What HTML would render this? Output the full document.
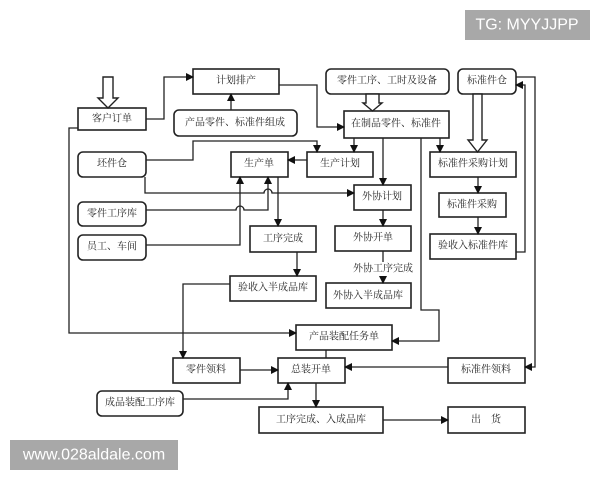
<!DOCTYPE html>
<html><head><meta charset="utf-8"><style>
html,body{margin:0;padding:0;background:#fff;}
svg{display:block;}
text{font-family:"Liberation Serif","Noto Serif CJK SC",serif;font-size:10px;fill:#222;text-anchor:middle;dominant-baseline:central;}
.w{font-family:"Liberation Sans",sans-serif;font-size:16px;fill:#fff;}
</style></head><body>
<svg width="600" height="480" viewBox="0 0 600 480" xmlns="http://www.w3.org/2000/svg">
<defs><marker id="a" markerWidth="8" markerHeight="8" refX="7" refY="4" orient="auto" markerUnits="userSpaceOnUse"><path d="M0,0 L8,4 L0,8 z" fill="#111"/></marker></defs>
<g fill="#fff" stroke="#222" stroke-width="1.6">
<rect x="78" y="108" width="68" height="22"/>
<rect x="193" y="69" width="86" height="25"/>
<rect x="174" y="110" width="123" height="26" rx="5"/>
<rect x="78" y="152" width="68" height="25" rx="5"/>
<rect x="231" y="152" width="57" height="25"/>
<rect x="307" y="152" width="66" height="25"/>
<rect x="78" y="202" width="68" height="24" rx="5"/>
<rect x="78" y="235" width="68" height="25" rx="5"/>
<rect x="250" y="226" width="66" height="26"/>
<rect x="326" y="69" width="123" height="25" rx="5"/>
<rect x="344" y="111" width="105" height="27"/>
<rect x="458" y="69" width="58" height="25" rx="5"/>
<rect x="430" y="152" width="86" height="25"/>
<rect x="439" y="193" width="67" height="24"/>
<rect x="430" y="234" width="86" height="25"/>
<rect x="354" y="185" width="57" height="25"/>
<rect x="335" y="226" width="76" height="25"/>
<rect x="326" y="283" width="85" height="25"/>
<rect x="230" y="276" width="86" height="25"/>
<rect x="296" y="325" width="96" height="25"/>
<rect x="173" y="358" width="67" height="25"/>
<rect x="278" y="358" width="67" height="25"/>
<rect x="448" y="358" width="77" height="25"/>
<rect x="97" y="391" width="86" height="25" rx="5"/>
<rect x="259" y="407" width="124" height="26"/>
<rect x="448" y="407" width="77" height="26"/>
</g>
<g fill="#fff" stroke="#222" stroke-width="1.4">
<path d="M103,77 L113,77 L113,98 L118,98 L108,108 L98,98 L103,98 Z"/>
<path d="M366,94 L379,94 L379,103 L382,103 L372.5,111 L363,103 L366,103 Z"/>
<path d="M473,94 L482,94 L482,140 L487,140 L477.5,152 L468,140 L473,140 Z"/>
</g>
<g fill="none" stroke="#222" stroke-width="1.3" marker-end="url(#a)">
<path d="M146,119 H164 V77 H193"/>
<path d="M231,110 V94"/>
<path d="M279,85 H317 V127 H344"/>
<path d="M146,160 H193 V141 H317 V152"/>
<path d="M354,138 V152"/>
<path d="M440,138 V152"/>
<path d="M383,138 V185"/>
<path d="M307,160 H288"/>
<path d="M145,177 V193 H264 a4,4 0 0 1 8,0 H354"/>
<path d="M146,210 H236 a4,4 0 0 1 8,0 H268 V177"/>
<path d="M146,245 H240 V177"/>
<path d="M278,177 V226"/>
<path d="M297,252 V276"/>
<path d="M383,210 V226"/>
<path d="M383,251 V283"/>
<path d="M478,177 V193"/>
<path d="M478,217 V234"/>
<path d="M516,252 H525 V85 H516"/>
<path d="M516,77 H535 V367 H525"/>
<path d="M421,138 V310 H439 V341 H392"/>
<path d="M78,128 H69 V333 H296"/>
<path d="M230,284 H183 V358"/>
<path d="M240,370 H278"/>
<path d="M448,367 H345"/>
<path d="M183,399 H288 V383"/>
<path d="M316,383 V407"/>
<path d="M383,420 H448"/>
</g>
<line x1="326" y1="350" x2="326" y2="358" stroke="#222" stroke-width="1.3"/>
<rect x="352" y="262" width="62" height="14" fill="#fff"/>
<text x="112" y="119">客户订单</text>
<text x="236" y="81">计划排产</text>
<text x="235" y="123">产品零件、标准件组成</text>
<text x="112" y="164">坯件仓</text>
<text x="259" y="164">生产单</text>
<text x="340" y="164">生产计划</text>
<text x="112" y="214">零件工序库</text>
<text x="112" y="247">员工、车间</text>
<text x="283" y="239">工序完成</text>
<text x="387" y="81">零件工序、工时及设备</text>
<text x="396" y="124">在制品零件、标准件</text>
<text x="487" y="81">标准件仓</text>
<text x="473" y="164">标准件采购计划</text>
<text x="472" y="205">标准件采购</text>
<text x="473" y="246">验收入标准件库</text>
<text x="382" y="197">外协计划</text>
<text x="373" y="238">外协开单</text>
<text x="383" y="269">外协工序完成</text>
<text x="368" y="296">外协入半成品库</text>
<text x="273" y="288">验收入半成品库</text>
<text x="344" y="337">产品装配任务单</text>
<text x="206" y="370">零件领料</text>
<text x="311" y="370">总装开单</text>
<text x="486" y="370">标准件领料</text>
<text x="140" y="403">成品装配工序库</text>
<text x="321" y="420">工序完成、入成品库</text>
<text x="486" y="420">出　货</text>
<rect x="465" y="10" width="125" height="30" fill="#a8a8a8"/>
<text class="w" x="527" y="25">TG: MYYJJPP</text>
<rect x="10" y="440" width="168" height="30" fill="#a8a8a8"/>
<text class="w" x="94" y="455">www.028aldale.com</text>
</svg>
</body></html>
